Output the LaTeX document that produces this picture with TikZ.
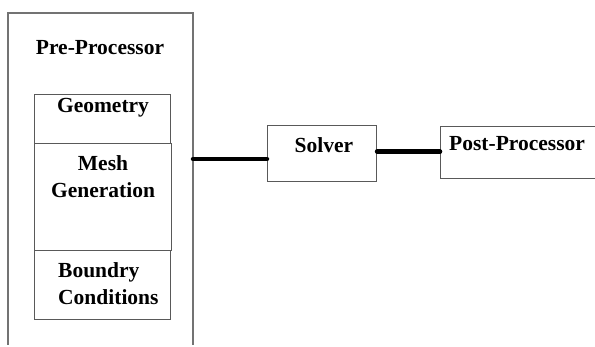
\documentclass[tikz,border=0pt]{standalone}
\usepackage{fontspec}
\setmainfont{Liberation Serif}
\usetikzlibrary{positioning}
\tikzset{
  blk/.style={draw=black!65,line width=1.1pt,inner sep=0pt},
  lbl/.style={font=\fontsize{21.5}{27}\selectfont\bfseries,inner sep=0pt},
  link/.style={line width=4.5pt,line cap=round}
}

\begin{document}
\begin{tikzpicture}[x=1pt,y=-1pt]
    \useasboundingbox (0,0) rectangle (595,347);
    % pre-processor frame, open at the bottom
    \draw[draw=black!55,line width=1.1pt] (8,345) |- (193,13) -- (193,345);
    \coordinate (pre) at (193,159);
    \node (pretxt) [lbl,anchor=base] at (100,55) {Pre-Processor};
    \node (geom) [blk,anchor=north west,minimum width=136pt,minimum height=49pt] at (34,94) {};
    \node (mesh) [blk,anchor=north west,minimum width=137pt,minimum height=107pt] at (34,143) {};
    \node (bound) [blk,anchor=north west,minimum width=136pt,minimum height=69pt] at (34,250) {};
    \node (geomtxt) [lbl,anchor=base] at (103,113) {Geometry};
    \node (meshtxt) [lbl,anchor=north,align=center] at (103,155) {Mesh\\Generation};
    \node (boundtxt) [lbl,anchor=north west,align=left] at (58,262) {Boundry\\Conditions};
    % solver and post-processor
    \node (solver) [blk,anchor=north west,minimum width=109pt,minimum height=56pt] at (267,125) {};
    \node (solvertxt) [lbl,anchor=base] at (324,153) {Solver};
    \node (post) [blk,anchor=north west,minimum width=170pt,minimum height=52pt] at (440,126) {};
    \node (posttxt) [lbl,anchor=base west] at (449,151) {Post-Processor};
    \draw[link] (pre) -- (pre -| solver.west);
    \draw[link] ([yshift=2pt]solver.east) -- ([yshift=2pt]solver.east -| post.west);
\end{tikzpicture}
\end{document}
